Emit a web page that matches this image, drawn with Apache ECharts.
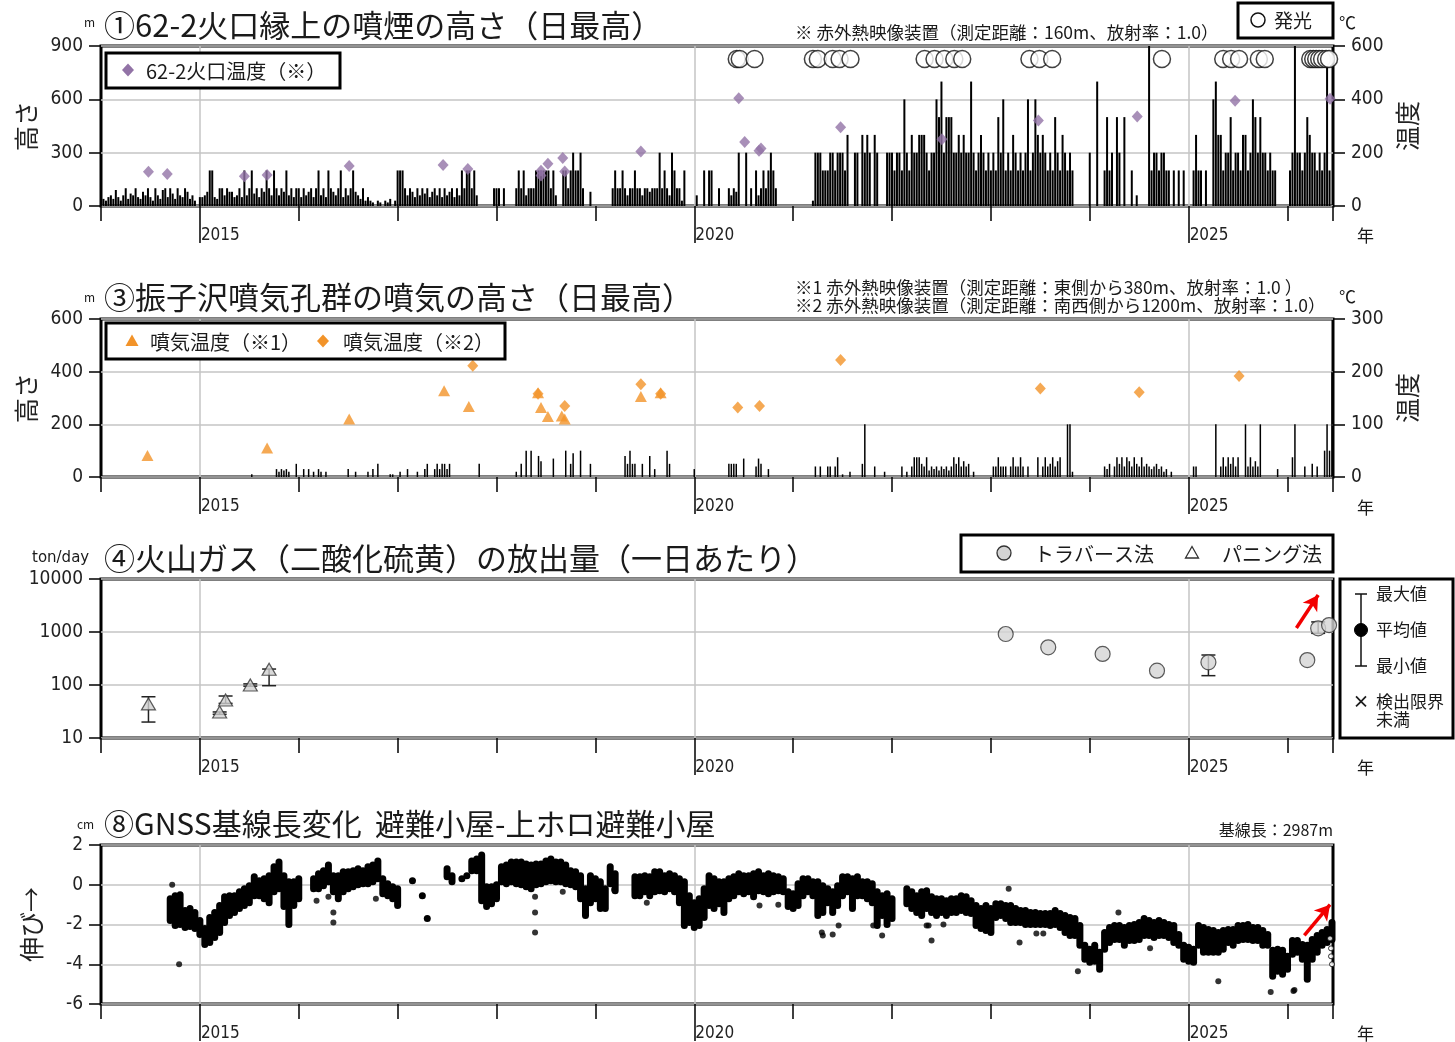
<!DOCTYPE html>
<html><head><meta charset="utf-8">
<script src="https://cdn.jsdelivr.net/npm/echarts@6/dist/echarts.min.js"></script>
<style>html,body{margin:0;padding:0;background:#fff}#c{width:1455px;height:1042px}</style>
</head><body><div id="c"></div>
<script>
// ---------- DATA ----------
// Panel 1: daily max plume height (m), sampled every 0.025 year, one array per year
const smoke2014=[200,40,30,50,60,40,90,50,30,60,100,40,70,60,100,50,40,80,60,100,50,30,100,60,40,90,100,50,100,70,40,100,60,50,100,80,40,60,30,0];
const smoke2015=[50,50,60,80,200,200,50,40,100,100,60,100,80,80,50,60,100,50,200,60,100,200,70,100,50,100,80,200,100,60,200,100,60,100,80,200,60,100,50,100];
const smoke2016=[100,50,100,60,80,100,50,100,200,60,100,50,200,100,80,60,100,200,50,100,60,100,200,80,60,40,100,30,50,30,20,0,30,20,0,30,20,40,0,30];
const smoke2017=[200,200,200,100,60,100,80,50,100,60,100,70,100,50,80,100,60,100,50,100,60,80,100,50,100,60,200,100,200,200,100,200,60,0,0,0,0,0,0,100];
const smoke2018=[100,100,0,100,0,0,0,0,100,200,100,200,60,100,100,100,200,200,200,200,200,200,100,200,60,0,0,200,200,100,200,300,200,200,300,100,0,0,80,0];
const smoke2019=[0,0,0,0,0,0,0,100,200,100,100,200,100,60,100,100,200,100,100,60,100,100,80,100,100,100,300,100,200,100,60,300,200,100,100,30,200,0,0,0];
const smoke2020=[0,60,0,0,200,0,200,200,0,0,100,0,0,0,100,60,100,80,300,0,0,300,0,100,0,200,60,100,200,100,200,300,200,100,0,0,0,0,0,0];
const smoke2021=[0,0,0,0,0,0,0,0,30,300,300,300,200,200,200,300,300,200,300,300,300,200,400,0,0,300,300,0,400,300,400,300,0,400,300,0,0,0,300,300];
const smoke2022=[300,200,300,300,200,600,300,200,400,300,300,400,400,400,300,200,300,300,600,500,700,300,500,500,500,300,300,400,300,400,300,300,700,300,200,300,400,300,200,300];
const smoke2023=[200,300,200,500,300,600,200,300,200,400,300,200,300,200,300,600,200,300,600,400,300,400,300,200,300,200,500,300,200,400,300,200,300,200,0,0,0,0,0,0];
const smoke2024=[300,0,0,700,0,0,200,500,200,300,0,500,300,0,500,0,0,200,0,60,0,0,0,0,900,200,300,300,200,300,300,200,200,0,200,0,200,0,200,0];
const smoke2025=[0,0,200,400,200,200,0,200,0,0,600,700,400,400,200,300,300,500,200,300,300,200,400,400,200,300,600,500,300,500,300,300,200,300,200,200,0,0,0,0];
const smoke2026=[0,200,300,900,300,300,200,300,500,400,300,300,200,300,200,300,832,200];
const smokeRows=[smoke2014,smoke2015,smoke2016,smoke2017,smoke2018,smoke2019,smoke2020,smoke2021,smoke2022,smoke2023,smoke2024,smoke2025,smoke2026];
// 62-2 crater temperature (°C)
const craterTemp=[[2014.48,128],[2014.67,120],[2015.45,112],[2015.68,116],[2016.51,150],[2017.46,154],[2017.71,139],[2018.45,114],[2018.45,132],[2018.52,158],[2018.67,180],[2018.69,129],[2019.46,204],[2020.45,404],[2020.51,240],[2020.655,207],[2020.675,216],[2021.48,295],[2022.505,250],[2023.48,321],[2024.48,336],[2025.47,395],[2026.43,402]];
// glow observations (dates)
const glowYears=[2020.43,2020.46,2020.61,2021.20,2021.25,2021.40,2021.47,2021.58,2022.33,2022.43,2022.53,2022.63,2022.71,2023.39,2023.49,2023.62,2024.73,2025.35,2025.43,2025.51,2025.71,2025.77,2026.23,2026.26,2026.29,2026.32,2026.35,2026.39,2026.42];
const glowLevel=551;

// Panel 3: fumarole height (m), every 0.025 year, from 2015
const fum2015=[0,0,0,0,0,0,0,0,0,0,0,0,0,0,0,0,0,0,0,0,0,10,0,0,0,0,0,0,0,0,0,30,20,30,25,30,20,0,0,50];
const fum2016=[0,0,30,0,30,0,20,0,30,20,0,20,0,0,0,0,0,0,0,0,30,0,0,20,0,0,0,0,20,0,30,0,50,0,0,0,0,10,10,0];
const fum2017=[0,20,0,0,30,0,0,0,20,0,0,30,50,0,0,30,50,30,50,50,30,50,0,0,0,0,0,0,0,0,0,0,0,50,0,0,0,0,0,0];
const fum2018=[0,0,0,0,0,0,0,0,20,0,50,0,100,0,100,0,0,80,60,0,0,0,0,70,0,0,0,0,100,0,50,90,0,0,100,0,0,0,50,0];
const fum2019=[0,0,0,0,0,0,0,0,0,0,0,0,80,50,100,50,50,0,0,50,0,0,80,0,30,0,0,0,0,100,50,0,0,0,0,0,0,0,0,0];
const fum2020=[30,0,0,0,0,0,0,0,0,0,0,0,0,0,50,50,50,50,0,0,70,0,0,0,0,40,70,50,0,0,30,0,0,0,0,0,0,0,0,0];
const fum2021=[0,0,0,0,0,0,0,0,0,40,0,40,0,0,40,40,0,40,75,0,10,0,0,20,0,0,0,0,50,200,0,0,0,40,0,0,0,20,0,0];
const fum2022=[0,0,0,0,40,0,20,0,40,75,75,75,50,40,75,25,40,30,40,25,40,30,40,25,40,75,50,75,40,60,40,50,0,20,0,0,0,0,0,0];
const fum2023=[0,40,40,75,40,40,40,0,40,75,40,40,75,40,0,40,0,0,0,75,0,40,75,40,50,75,40,60,75,0,0,200,200,20,0,0,0,0,0,0];
const fum2024=[0,0,0,0,0,0,40,30,50,0,40,75,50,75,40,75,60,40,75,50,40,75,40,50,40,30,40,50,30,40,20,30,0,20,0,0,0,0,0,0];
const fum2025=[0,0,40,40,0,0,0,0,0,0,0,200,0,40,75,40,75,50,75,40,75,0,0,200,40,75,40,60,40,200,0,0,0,0,0,0,30,0,0,0];
const fum2026=[0,0,75,200,0,0,0,40,0,0,50,0,40,0,0,100,200,100,400];
const fumRows=[fum2015,fum2016,fum2017,fum2018,fum2019,fum2020,fum2021,fum2022,fum2023,fum2024,fum2025,fum2026];
const fumTemp1=[[2014.47,41],[2015.68,55],[2016.51,110],[2017.47,164],[2017.72,134],[2018.42,160],[2018.45,132],[2018.52,115],[2018.66,116],[2018.69,110],[2019.46,153],[2019.66,160]];
const fumTemp2=[[2017.76,211],[2018.42,158],[2018.69,135],[2019.46,176],[2019.66,158],[2020.44,132],[2020.66,135],[2021.48,222],[2023.50,168],[2024.50,161],[2025.51,192]];

// Panel 4: SO2 emission (ton/day)
const traverse=[[2023.15,916],[2023.58,514],[2024.13,385],[2024.68,186],[2025.20,268],[2026.20,295],[2026.31,1175],[2026.42,1350]];
const traverseRange=[[2025.20,150,368],[2026.31,944,1550]];
const panning=[[2014.48,44],[2015.20,31],[2015.26,52],[2015.51,100],[2015.70,198]];
const panningRange=[[2014.48,20,60],[2015.20,28,31],[2015.26,45,62],[2015.51,95,105],[2015.70,97,200]];

// Panel 8: GNSS baseline change (cm), upper / lower edge of daily scatter, every 0.05 year from 2014.70
const gnssStart=2014.70, gnssStep=0.05;
const gnssHi=[-0.7,-0.55,-0.5,-1.3,-1.2,-1.4,-1.8,-2.2,-1.65,-1.4,-1.05,-0.6,-0.55,-0.55,-0.35,-0.2,-0.05,0.4,0.2,0.3,0.45,0.9,1.15,0.45,0.15,0.15,0.3,null,null,0.3,0.55,0.7,1.0,0.45,0.45,0.65,0.65,0.7,0.8,0.7,0.9,1.0,1.2,0.3,0.05,-0.1,-0.2,null,null,0.2,null,-0.55,-1.7,null,null,null,0.8,0.45,null,0.3,0.45,1.2,1.3,1.5,-0.1,-0.1,0.0,0.9,1.0,1.15,1.15,1.15,1.05,1.0,1.05,1.05,1.2,1.3,1.15,1.15,1.0,0.7,0.65,0.45,-0.2,0.45,0.3,0.15,-0.2,0.9,0.55,null,null,null,0.4,0.4,0.45,0.4,0.65,0.65,0.45,0.55,0.45,0.3,0.15,-0.55,-0.9,-0.7,-0.2,0.45,0.3,0.15,0.15,0.3,0.4,0.55,0.45,0.45,0.55,0.65,0.45,0.55,0.45,0.4,0.3,-0.35,-0.45,0.05,0.3,0.3,0.15,0.15,-0.05,-0.2,-0.35,-0.05,0.4,0.4,0.3,0.4,0.15,0.15,0.05,-0.35,-0.55,-0.45,-0.7,null,null,-0.2,-0.35,-0.55,-0.35,-0.3,-0.6,-0.7,-0.7,-0.8,-0.7,-0.7,-0.55,-0.6,-0.8,-1.05,-1.2,-1.05,-1.2,-0.95,-0.95,-1.05,-1.05,-1.2,-1.3,-1.3,-1.4,-1.4,-1.45,-1.45,-1.45,-1.3,-1.45,-1.55,-1.65,-1.7,-2.05,-3.05,-3.25,-3.05,-3.4,-2.4,-2.15,-2.05,-2.05,-2.15,-2.05,-2.0,-1.9,-1.7,-1.8,-1.9,-1.8,-1.9,-2.0,-2.05,-2.5,-3.05,-3.15,-3.25,-2.05,-2.15,-2.25,-2.3,-2.4,-2.3,-2.25,-2.25,-2.05,-2.05,-2.0,-2.15,-2.15,-2.3,-2.5,-3.3,-3.25,-3.3,-3.6,-2.8,-2.8,-3.0,-3.05,-2.75,-2.55,-2.4,-2.25,-1.9];
const gnssLo=[-1.8,-2.05,-2.0,-2.15,-2.1,-2.2,-2.5,-3.0,-2.9,-2.65,-2.4,-1.9,-1.55,-1.4,-1.2,-1.05,-0.9,-0.55,-0.55,-0.7,-0.9,-0.35,-0.2,-1.1,-2.0,-1.05,-0.7,null,null,-0.2,-0.2,-0.05,0.15,-0.35,-0.7,-0.35,-0.2,-0.1,0.0,0.05,0.05,0.15,0.3,-0.45,-0.55,-0.7,-1.05,null,null,0.2,null,-0.55,-1.7,null,null,null,0.4,0.15,null,0.3,0.45,0.7,0.7,-0.8,-1.1,-0.95,-0.7,0.15,0.05,0.15,0.05,0.0,-0.1,-0.2,0.0,0.05,0.15,0.2,0.15,0.15,0.05,0.0,-0.1,-0.7,-1.55,-0.9,-0.7,-1.2,-1.2,0.05,-0.3,null,null,null,-0.55,-0.55,-0.35,-0.55,-0.35,-0.3,-0.35,-0.2,-0.35,-0.9,-2.05,-1.9,-2.15,-2.05,-1.65,-1.05,-1.2,-0.95,-1.4,-0.7,-0.55,-0.35,-0.45,-0.35,-0.6,-0.3,-0.35,-0.45,-0.35,-0.3,-0.35,-1.1,-1.2,-1.05,-0.55,-0.35,-0.55,-1.55,-1.4,-0.9,-1.4,-1.05,-0.55,-0.35,-1.2,-0.55,-0.55,-0.7,-0.9,-2.05,-1.55,-2.0,-1.7,null,null,-0.95,-1.2,-1.4,-1.55,-1.2,-1.4,-1.55,-1.4,-1.55,-1.4,-1.4,-1.3,-1.4,-1.45,-2.05,-2.2,-2.3,-2.4,-1.65,-1.55,-1.7,-1.9,-1.9,-1.9,-2.0,-2.0,-2.0,-2.0,-2.0,-2.05,-2.0,-2.15,-2.4,-2.55,-2.55,-3.05,-3.75,-3.9,-3.85,-4.25,-3.25,-2.9,-2.75,-2.75,-3.05,-2.8,-2.8,-2.75,-2.55,-2.55,-2.65,-2.55,-2.55,-2.65,-2.9,-3.05,-3.75,-3.85,-3.9,-3.05,-3.4,-3.4,-3.4,-3.4,-3.25,-2.9,-3.05,-2.8,-2.75,-2.75,-2.8,-2.8,-3.05,-3.05,-4.6,-4.35,-4.5,-4.25,-3.5,-3.4,-3.75,-4.75,-3.75,-3.4,-3.05,-2.9,-2.75];
const gnssOutliers=[[2014.72,0.0],[2014.79,-4.0],[2016.18,-0.8],[2016.30,-0.6],[2016.35,-1.4],[2016.35,-1.9],[2016.78,-0.7],[2018.39,-0.6],[2018.39,-1.4],[2018.39,-2.4],[2018.67,-0.35],[2019.19,-0.25],[2019.52,-0.9],[2020.66,-1.05],[2020.85,-1.0],[2021.29,-2.4],[2021.30,-2.55],[2021.40,-2.5],[2021.46,-2.05],[2021.81,-2.05],[2021.90,-2.55],[2022.35,-2.05],[2022.37,-2.05],[2022.40,-2.8],[2022.52,-2.0],[2023.18,-0.2],[2023.29,-2.9],[2023.46,-2.45],[2023.53,-2.45],[2023.88,-4.35],[2024.29,-1.4],[2024.61,-3.2],[2025.30,-4.85],[2025.83,-5.4],[2026.06,-5.35],[2026.07,-5.3]];
const gnssOpen=[[2026.43,-2.7],[2026.44,-3.2],[2026.44,-3.6],[2026.45,-4.0]];

const yearTicks=[2015,2020,2025];

// ---------- BUILD ----------
const JP="'Noto Sans CJK JP','Noto Sans',sans-serif";
const NUM="'Liberation Sans Narrow','DejaVu Sans Condensed','Noto Sans CJK JP',sans-serif";
const XMIN=2014, XMAX=2026.46;
function rowsToBars(rows,start){const out=[];rows.forEach((r,k)=>r.forEach((h,i)=>{if(h>0)out.push([+(start+k+i*0.025).toFixed(4),h]);}));return out;}
const smokeBars=rowsToBars(smokeRows,2014);
const fumBars=rowsToBars(fumRows,2015);
const gnssBand=[];
gnssHi.forEach((h,i)=>{if(h!==null)gnssBand.push([+(gnssStart+i*gnssStep).toFixed(3),h,gnssLo[i]]);});

const grids=[{top:46,height:160},{top:319,height:158},{top:579,height:159},{top:845,height:159}]
  .map(g=>({left:101,width:1232,top:g.top,height:g.height,show:true,borderColor:'#000',borderWidth:3,backgroundColor:'transparent',containLabel:false}));

const xAxes=[];
for(let g=0;g<4;g++){
  xAxes.push({type:'value',gridIndex:g,position:'bottom',min:XMIN,max:XMAX,interval:1,
    axisLine:{show:false,onZero:false},axisTick:{show:true,length:15,lineStyle:{color:'#000',width:1.5}},
    axisLabel:{show:false},splitLine:{show:false}});
  xAxes.push({type:'value',gridIndex:g,position:'bottom',min:XMIN,max:XMAX,
    axisLine:{show:false,onZero:false},
    axisTick:{show:true,length:37,customValues:yearTicks,lineStyle:{color:'#000',width:1.5}},
    axisLabel:{show:true,customValues:yearTicks,align:'left',verticalAlign:'top',margin:21,padding:[0,0,0,1],
      fontSize:17,fontFamily:NUM,color:'#222',formatter:v=>String(Math.round(v))},
    splitLine:{show:true,lineStyle:{color:'#c4c4c4',width:1.5}}});
}
const lblStyle={fontSize:19,fontFamily:NUM,color:'#222',margin:18};
function yLeft(g,o){return Object.assign({type:'value',gridIndex:g,position:'left',
  axisLine:{show:false,onZero:false},axisTick:{show:true,length:12,lineStyle:{color:'#000',width:1.5}},
  axisLabel:Object.assign({},lblStyle),splitLine:{show:true,lineStyle:{color:'#c4c4c4',width:1.5}},
  nameLocation:'middle',nameRotate:90,nameGap:57,nameTextStyle:{fontSize:25,fontFamily:JP,color:'#222'}},o);}
function yRight(g,o){return Object.assign({type:'value',gridIndex:g,position:'right',
  axisLine:{show:false,onZero:false},axisTick:{show:true,length:12,lineStyle:{color:'#000',width:1.5}},
  axisLabel:Object.assign({},lblStyle),splitLine:{show:false},
  nameLocation:'middle',nameRotate:90,nameGap:58,nameTextStyle:{fontSize:25,fontFamily:JP,color:'#222'}},o);}
const yAxes=[
  yLeft(0,{min:0,max:900,interval:300,name:'高さ'}),
  yRight(0,{min:0,max:600,interval:200,name:'温度'}),
  yLeft(1,{min:0,max:600,interval:200,name:'高さ'}),
  yRight(1,{min:0,max:300,interval:100,name:'温度'}),
  yLeft(2,{type:'log',logBase:10,min:10,max:10000,axisLabel:Object.assign({},lblStyle,{formatter:v=>String(Math.round(v))})}),
  yLeft(3,{min:-6,max:2,interval:2,name:'伸び→'})
];

function rangeRender(params,api){
  const x=api.value(0),lo=api.value(1),hi=api.value(2);
  const a=api.coord([x,lo]),b=api.coord([x,hi]);const w=7;
  const st={stroke:'#222',lineWidth:1.5,fill:null};
  return {type:'group',children:[
    {type:'line',shape:{x1:a[0],y1:a[1],x2:b[0],y2:b[1]},style:st},
    {type:'line',shape:{x1:a[0]-w,y1:a[1],x2:a[0]+w,y2:a[1]},style:st},
    {type:'line',shape:{x1:b[0]-w,y1:b[1],x2:b[0]+w,y2:b[1]},style:st}]};
}
function bandRender(params,api){
  const x=api.value(0);const a=api.coord([x,api.value(1)]),b=api.coord([x,api.value(2)]);
  const w=7, top=Math.min(a[1],b[1])-3.5, h=Math.abs(a[1]-b[1])+7;
  return {type:'rect',shape:{x:a[0]-w/2,y:top,width:w,height:h,r:3.5},style:{fill:'#000'}};
}
const arrowML=(p1,p2)=>({silent:true,symbol:['none','arrow'],symbolSize:[13,15],label:{show:false},
  lineStyle:{color:'#f20000',width:3.5,type:'solid'},emphasis:{disabled:true},data:[[{coord:p1},{coord:p2}]]});

const PURPLE='#9273a6', ORANGE='#f29329';
const series=[
  {type:'bar',xAxisIndex:0,yAxisIndex:0,data:smokeBars,barWidth:2,itemStyle:{color:'#000'},z:2,silent:true},
  {type:'scatter',xAxisIndex:0,yAxisIndex:1,data:craterTemp,symbol:'diamond',symbolSize:[11,12],itemStyle:{color:PURPLE},z:4},
  {type:'scatter',xAxisIndex:0,yAxisIndex:1,data:glowYears.map(t=>[t,glowLevel]),symbol:'circle',symbolSize:17,
    itemStyle:{color:'#fff',borderColor:'#111',borderWidth:1.5},z:4},
  {type:'bar',xAxisIndex:2,yAxisIndex:2,data:fumBars,barWidth:1.5,itemStyle:{color:'#000'},z:2,silent:true},
  {type:'scatter',xAxisIndex:2,yAxisIndex:3,data:fumTemp1,symbol:'triangle',symbolSize:[12,11],itemStyle:{color:ORANGE},z:4},
  {type:'scatter',xAxisIndex:2,yAxisIndex:3,data:fumTemp2,symbol:'diamond',symbolSize:[11,12],itemStyle:{color:ORANGE},z:5},
  {type:'custom',xAxisIndex:4,yAxisIndex:4,data:panningRange,renderItem:rangeRender,z:3},
  {type:'scatter',xAxisIndex:4,yAxisIndex:4,data:panning,symbol:'triangle',symbolSize:[14,12],
    itemStyle:{color:'#cfcfcf',borderColor:'#333',borderWidth:1.2},z:4},
  {type:'custom',xAxisIndex:4,yAxisIndex:4,data:traverseRange,renderItem:rangeRender,z:3},
  {type:'scatter',xAxisIndex:4,yAxisIndex:4,data:traverse,symbol:'circle',symbolSize:15,
    itemStyle:{color:'#d4d4d4',borderColor:'#333',borderWidth:1.2},z:4,
    markLine:arrowML([2026.09,1190],[2026.31,5000])},
  {type:'custom',xAxisIndex:6,yAxisIndex:5,data:gnssBand,renderItem:bandRender,z:3},
  {type:'scatter',xAxisIndex:6,yAxisIndex:5,data:gnssOutliers,symbol:'circle',symbolSize:6,itemStyle:{color:'#000'},z:3,
    markLine:arrowML([2026.17,-2.55],[2026.43,-1.0])},
  {type:'scatter',xAxisIndex:6,yAxisIndex:5,data:gnssOpen,symbol:'circle',symbolSize:5,
    itemStyle:{color:'#fff',borderColor:'#000',borderWidth:1},z:4}
];

// ---------- TEXT / LEGENDS ----------
function T(text,x,y,size,o){o=o||{};const al=o.align||'left';
  return {type:'text',x:x,y:y,z:100,style:{text:text,font:(o.weight||'normal')+' '+size+'px '+(o.font||JP),fill:o.color||'#1a1a1a',
    align:al,verticalAlign:'middle',textAlign:al,textVerticalAlign:'middle'}};}
function R(x,y,w,h){return {type:'rect',z:99,shape:{x:x,y:y,width:w,height:h},style:{fill:'#fff',stroke:'#000',lineWidth:3}};}
function DIA(cx,cy,c){return {type:'polygon',z:101,shape:{points:[[cx,cy-6.5],[cx+6,cy],[cx,cy+6.5],[cx-6,cy]]},style:{fill:c}};}
function TRI(cx,cy,fill,stroke){return {type:'polygon',z:101,shape:{points:[[cx,cy-6.5],[cx+6.5,cy+5],[cx-6.5,cy+5]]},style:{fill:fill,stroke:stroke||null,lineWidth:1.3}};}
function CIR(cx,cy,r,fill,stroke,lw){return {type:'circle',z:101,shape:{cx:cx,cy:cy,r:r},style:{fill:fill,stroke:stroke,lineWidth:lw||1.5}};}
function LN(x1,y1,x2,y2,w){return {type:'line',z:101,shape:{x1:x1,y1:y1,x2:x2,y2:y2},style:{stroke:'#111',lineWidth:w||1.5}};}

const graphics=[
  // panel 1
  T('m',84,22,12),
  T('①62-2火口縁上の噴煙の高さ（日最高）',104,25,31),
  T('※ 赤外熱映像装置（測定距離：160m、放射率：1.0）',795,32,17.5),
  R(1238,3,95,35), CIR(1258,20,7,'#fff','#111'), T('発光',1274,21,19),
  T('℃',1339,23,17),
  T('年',1357,236,17),
  R(106,53,234,35), DIA(128,70,PURPLE), T('62-2火口温度（※）',146,71,20),
  // panel 3
  T('m',84,297,12),
  T('③振子沢噴気孔群の噴気の高さ（日最高）',104,297,31),
  T('※1 赤外熱映像装置（測定距離：東側から380m、放射率：1.0 ）',795,287,17.5),
  T('※2 赤外熱映像装置（測定距離：南西側から1200m、放射率：1.0）',795,305,17.5),
  T('℃',1339,297,17),
  T('年',1357,508,17),
  R(106,323,399,36), TRI(132,341,ORANGE), T('噴気温度（※1）',150,342,20),
  DIA(323,341,ORANGE), T('噴気温度（※2）',343,342,20),
  // panel 4
  T('ton/day',32,558,15,{font:"'DejaVu Sans','Noto Sans',sans-serif"}),
  T('④火山ガス（二酸化硫黄）の放出量（一日あたり）',104,558,31),
  R(961,535,372,37), CIR(1004,553,7,'#d4d4d4','#333',1.3), T('トラバース法',1034,554,20),
  TRI(1192,553,'#fff','#333'), T('パニング法',1222,554,20),
  R(1340,579,113,159),
  LN(1361,594,1361,666), LN(1355,594,1367,594), LN(1355,666,1367,666), CIR(1361,630,6.5,'#000','#000',1),
  T('最大値',1376,594,17), T('平均値',1376,630,17), T('最小値',1376,666,17),
  T('×',1361,702,17,{align:'center',weight:'bold'}), T('検出限界',1376,702,17), T('未満',1376,720,17),
  T('年',1357,768,17),
  // panel 8
  T('cm',77,824,12),
  T('⑧GNSS基線長変化  避難小屋-上ホロ避難小屋',104,824,30),
  T('基線長：2987m',1333,830,16,{align:'right'}),
  T('年',1357,1034,17)
];

const chart=echarts.init(document.getElementById('c'),null,{renderer:'canvas'});
chart.setOption({animation:false,backgroundColor:'#fff',grid:grids,xAxis:xAxes,yAxis:yAxes,series:series,graphic:{elements:graphics}});
</script></body></html>
